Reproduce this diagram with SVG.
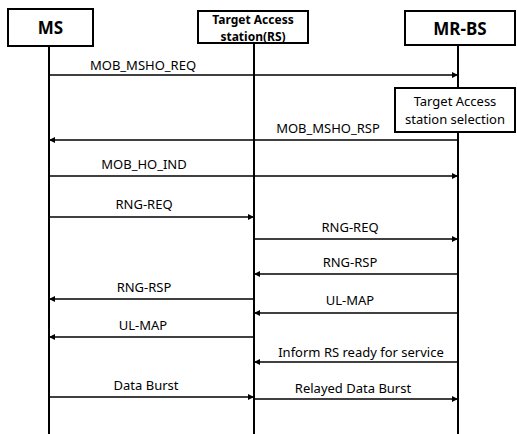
<svg xmlns="http://www.w3.org/2000/svg" width="517" height="434" viewBox="0 0 517 434">
<style>
.box{fill:#fff;stroke:#000;stroke-width:2}
.life{stroke:#000;stroke-width:2;fill:none}
.msg{stroke:#000;stroke-width:1.6;fill:none}
.h{font-family:"Noto Sans","DejaVu Sans",sans-serif;font-weight:bold;text-anchor:middle;fill:#000}
.t{font-family:"Noto Sans","DejaVu Sans",sans-serif;font-size:13px;text-anchor:middle;fill:#000}
</style>
<defs>
<marker id="ah" viewBox="0 0 10 10" refX="10" refY="5" markerWidth="7" markerHeight="6" markerUnits="userSpaceOnUse" orient="auto">
<path d="M0,0 L10,5 L0,10 z" fill="#000"/>
</marker>
</defs>
<g id="lifelines">
<line class="life" x1="49" y1="46" x2="49" y2="434"/>
<line class="life" x1="254" y1="43" x2="254" y2="434"/>
<line class="life" x1="458" y1="45" x2="458" y2="434"/>
</g>
<g id="node-ms">
<rect class="box" x="8" y="9" width="85" height="37"/>
<text class="h" x="50.5" y="34" font-size="17">MS</text>
</g>
<g id="node-rs">
<rect class="box" x="198" y="11" width="110" height="32"/>
<text class="h" x="253" y="24" font-size="12">Target Access</text>
<text class="h" x="253" y="40.5" font-size="12">station(RS)</text>
</g>
<g id="node-bs">
<rect class="box" x="405" y="11" width="110" height="34"/>
<text class="h" x="460" y="35" font-size="17">MR-BS</text>
</g>
<g id="node-selection">
<rect class="box" x="395" y="88" width="120" height="44" stroke-width="1.5"/>
<text class="t" x="455" y="106">Target Access</text>
<text class="t" x="455" y="124">station selection</text>
</g>
<g id="connectors">
<line class="msg" x1="49" y1="75" x2="458" y2="75" marker-end="url(#ah)"/>
<line class="msg" x1="458" y1="140" x2="49" y2="140" marker-end="url(#ah)"/>
<line class="msg" x1="49" y1="176" x2="458" y2="176" marker-end="url(#ah)"/>
<line class="msg" x1="49" y1="217" x2="254" y2="217" marker-end="url(#ah)"/>
<line class="msg" x1="254" y1="239" x2="458" y2="239" marker-end="url(#ah)"/>
<line class="msg" x1="458" y1="274" x2="254" y2="274" marker-end="url(#ah)"/>
<line class="msg" x1="254" y1="299" x2="49" y2="299" marker-end="url(#ah)"/>
<line class="msg" x1="458" y1="313" x2="254" y2="313" marker-end="url(#ah)"/>
<line class="msg" x1="254" y1="337" x2="49" y2="337" marker-end="url(#ah)"/>
<line class="msg" x1="458" y1="362" x2="254" y2="362" marker-end="url(#ah)"/>
<line class="msg" x1="49" y1="397" x2="254" y2="397" marker-end="url(#ah)"/>
<line class="msg" x1="254" y1="399" x2="458" y2="399" marker-end="url(#ah)"/>
</g>
<g id="labels">
<text class="t" x="143" y="70">MOB_MSHO_REQ</text>
<text class="t" x="328" y="133">MOB_MSHO_RSP</text>
<text class="t" x="144" y="169">MOB_HO_IND</text>
<text class="t" x="144" y="209">RNG-REQ</text>
<text class="t" x="350" y="232">RNG-REQ</text>
<text class="t" x="350" y="267">RNG-RSP</text>
<text class="t" x="144" y="292">RNG-RSP</text>
<text class="t" x="350" y="305">UL-MAP</text>
<text class="t" x="143" y="330">UL-MAP</text>
<text class="t" x="361" y="357">Inform RS ready for service</text>
<text class="t" x="146" y="390">Data Burst</text>
<text class="t" x="353" y="393">Relayed Data Burst</text>
</g>
</svg>
